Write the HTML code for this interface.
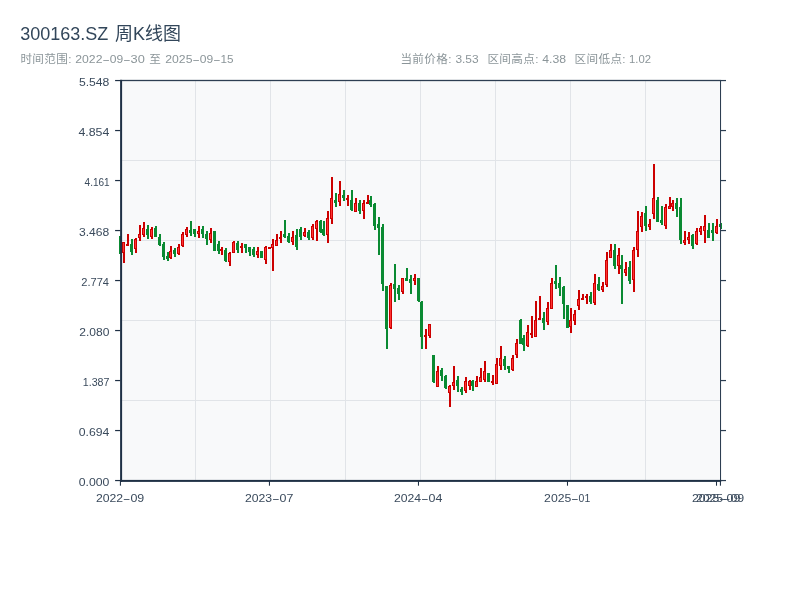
<!DOCTYPE html>
<html lang="zh-CN"><head><meta charset="utf-8"><title>300163.SZ 周K线图</title>
<style>
html,body{margin:0;padding:0;background:#fff;}
body{width:800px;height:600px;overflow:hidden;font-family:"Liberation Sans","Noto Sans CJK SC",sans-serif;}
svg{display:block;will-change:transform;}
text{font-family:"Liberation Sans","Noto Sans CJK SC",sans-serif;}
.tk{font-size:11.1px;fill:#3a4a5c;}
.ttl{font-size:18px;fill:#32465a;}
.sub{font-size:11.1px;fill:#8b9599;}
.cj{font-size:11.6px;}
</style></head><body>
<svg width="800" height="600" viewBox="0 0 800 600">
<rect width="800" height="600" fill="#ffffff"/>
<text x="20.2" y="39.6" class="ttl">300163.SZ <tspan dx="1.8" dy="0.4">周K线图</tspan></text>
<text x="20.4" y="63" textLength="51" class="sub cj">时间范围:</text>
<text y="63" class="sub"><tspan x="75.30" textLength="27.16" lengthAdjust="spacingAndGlyphs">2022</tspan><tspan x="102.24" textLength="7.73" lengthAdjust="spacingAndGlyphs">-</tspan><tspan x="109.81" textLength="13.42" lengthAdjust="spacingAndGlyphs">09</tspan><tspan x="123.01" textLength="7.73" lengthAdjust="spacingAndGlyphs">-</tspan><tspan x="130.58" textLength="14.22" lengthAdjust="spacingAndGlyphs">30</tspan></text>
<text x="149.2" y="63" textLength="11.6" class="sub cj">至</text>
<text y="63" class="sub"><tspan x="165.30" textLength="27.16" lengthAdjust="spacingAndGlyphs">2025</tspan><tspan x="192.24" textLength="7.73" lengthAdjust="spacingAndGlyphs">-</tspan><tspan x="199.81" textLength="13.42" lengthAdjust="spacingAndGlyphs">09</tspan><tspan x="213.01" textLength="7.73" lengthAdjust="spacingAndGlyphs">-</tspan><tspan x="220.58" textLength="13.02" lengthAdjust="spacingAndGlyphs">15</tspan></text>
<text x="400.4" y="63" textLength="51" class="sub cj">当前价格:</text>
<text x="455.4" y="63" textLength="23.2" lengthAdjust="spacingAndGlyphs" class="sub">3.53</text>
<text x="487.4" y="63" textLength="51" class="sub cj">区间高点:</text>
<text x="542.2" y="63" textLength="23.8" lengthAdjust="spacingAndGlyphs" class="sub">4.38</text>
<text x="574.6" y="63" textLength="51" class="sub cj">区间低点:</text>
<text x="629" y="63" textLength="22" lengthAdjust="spacingAndGlyphs" class="sub">1.02</text>
<rect x="120" y="80" width="601" height="401" fill="#f8f9fa"/>
<rect x="195" y="81" width="1" height="399" fill="#e1e4e8"/>
<rect x="270" y="81" width="1" height="399" fill="#e1e4e8"/>
<rect x="345" y="81" width="1" height="399" fill="#e1e4e8"/>
<rect x="420" y="81" width="1" height="399" fill="#e1e4e8"/>
<rect x="495" y="81" width="1" height="399" fill="#e1e4e8"/>
<rect x="570" y="81" width="1" height="399" fill="#e1e4e8"/>
<rect x="645" y="81" width="1" height="399" fill="#e1e4e8"/>
<rect x="122" y="160" width="598" height="1" fill="#e1e4e8"/>
<rect x="122" y="240" width="598" height="1" fill="#e1e4e8"/>
<rect x="122" y="320" width="598" height="1" fill="#e1e4e8"/>
<rect x="122" y="400" width="598" height="1" fill="#e1e4e8"/>
<g id="candles" shape-rendering="crispEdges">
<rect x="120" y="236" width="2" height="18" fill="#0a8a32"/>
<rect x="119" y="236" width="3" height="18" fill="#0a8a32"/>
<rect x="123" y="242" width="2" height="20.5" fill="#cc0000"/>
<rect x="122" y="242" width="3" height="10.5" fill="#cc0000"/>
<rect x="123" y="243" width="1" height="8.5" fill="#ff3333"/>
<rect x="127" y="234" width="2" height="11.8" fill="#cc0000"/>
<rect x="126" y="244" width="3" height="1.8" fill="#cc0000"/>
<rect x="131" y="239" width="2" height="15.8" fill="#0a8a32"/>
<rect x="130" y="244" width="3" height="8" fill="#0a8a32"/>
<rect x="135" y="238" width="2" height="14.8" fill="#cc0000"/>
<rect x="134" y="239" width="3" height="9.5" fill="#cc0000"/>
<rect x="135" y="240" width="1" height="7.5" fill="#ff3333"/>
<rect x="139" y="225" width="2" height="15.5" fill="#cc0000"/>
<rect x="138" y="234" width="3" height="4" fill="#cc0000"/>
<rect x="139" y="235" width="1" height="2" fill="#ff3333"/>
<rect x="143" y="222" width="2" height="14.5" fill="#cc0000"/>
<rect x="142" y="228" width="3" height="6.5" fill="#cc0000"/>
<rect x="143" y="229" width="1" height="4.5" fill="#ff3333"/>
<rect x="147" y="225" width="2" height="13.8" fill="#0a8a32"/>
<rect x="146" y="229" width="3" height="6" fill="#0a8a32"/>
<rect x="151" y="227" width="2" height="11.8" fill="#cc0000"/>
<rect x="150" y="228.5" width="3" height="8.5" fill="#cc0000"/>
<rect x="151" y="229.5" width="1" height="6.5" fill="#ff3333"/>
<rect x="155" y="226" width="2" height="10.8" fill="#0a8a32"/>
<rect x="154" y="228" width="3" height="8.8" fill="#0a8a32"/>
<rect x="159" y="234" width="2" height="11.8" fill="#0a8a32"/>
<rect x="158" y="236.5" width="3" height="8.5" fill="#0a8a32"/>
<rect x="163" y="242" width="2" height="17.8" fill="#0a8a32"/>
<rect x="162" y="244" width="3" height="12.5" fill="#0a8a32"/>
<rect x="167" y="252" width="2" height="8.8" fill="#0a8a32"/>
<rect x="166" y="256" width="3" height="3" fill="#0a8a32"/>
<rect x="170" y="246" width="2" height="12.8" fill="#cc0000"/>
<rect x="169" y="251" width="3" height="7" fill="#cc0000"/>
<rect x="170" y="252" width="1" height="5" fill="#ff3333"/>
<rect x="174" y="248" width="2" height="8.8" fill="#0a8a32"/>
<rect x="173" y="249.5" width="3" height="4.5" fill="#0a8a32"/>
<rect x="178" y="244" width="2" height="10.8" fill="#cc0000"/>
<rect x="177" y="247" width="3" height="7" fill="#cc0000"/>
<rect x="178" y="248" width="1" height="5" fill="#ff3333"/>
<rect x="182" y="232" width="2" height="14.8" fill="#cc0000"/>
<rect x="181" y="234" width="3" height="12" fill="#cc0000"/>
<rect x="182" y="235" width="1" height="10" fill="#ff3333"/>
<rect x="186" y="227" width="2" height="9.8" fill="#cc0000"/>
<rect x="185" y="229" width="3" height="6" fill="#cc0000"/>
<rect x="186" y="230" width="1" height="4" fill="#ff3333"/>
<rect x="190" y="221" width="2" height="14.8" fill="#0a8a32"/>
<rect x="189" y="229.5" width="3" height="3" fill="#0a8a32"/>
<rect x="194" y="229" width="2" height="7.8" fill="#0a8a32"/>
<rect x="193" y="229" width="3" height="4.5" fill="#0a8a32"/>
<rect x="198" y="226" width="2" height="11.8" fill="#cc0000"/>
<rect x="197" y="231" width="3" height="2.5" fill="#cc0000"/>
<rect x="198" y="232" width="1" height="0.5" fill="#ff3333"/>
<rect x="202" y="226" width="2" height="11.8" fill="#0a8a32"/>
<rect x="201" y="229" width="3" height="5" fill="#0a8a32"/>
<rect x="206" y="231" width="2" height="13.8" fill="#0a8a32"/>
<rect x="205" y="234" width="3" height="5" fill="#0a8a32"/>
<rect x="210" y="228" width="2" height="14.8" fill="#cc0000"/>
<rect x="209" y="232.5" width="3" height="7" fill="#cc0000"/>
<rect x="210" y="233.5" width="1" height="5" fill="#ff3333"/>
<rect x="214" y="231" width="2" height="19.8" fill="#0a8a32"/>
<rect x="213" y="231" width="3" height="19.5" fill="#0a8a32"/>
<rect x="218" y="241" width="2" height="12.8" fill="#0a8a32"/>
<rect x="217" y="244" width="3" height="7" fill="#0a8a32"/>
<rect x="221" y="247" width="2" height="7.8" fill="#cc0000"/>
<rect x="220" y="249" width="3" height="2" fill="#cc0000"/>
<rect x="225" y="248" width="2" height="13.8" fill="#0a8a32"/>
<rect x="224" y="250" width="3" height="11" fill="#0a8a32"/>
<rect x="229" y="252" width="2" height="13.8" fill="#cc0000"/>
<rect x="228" y="252.5" width="3" height="9.5" fill="#cc0000"/>
<rect x="229" y="253.5" width="1" height="7.5" fill="#ff3333"/>
<rect x="233" y="241" width="2" height="11.8" fill="#cc0000"/>
<rect x="232" y="241.5" width="3" height="11" fill="#cc0000"/>
<rect x="233" y="242.5" width="1" height="9" fill="#ff3333"/>
<rect x="237" y="241" width="2" height="11.8" fill="#0a8a32"/>
<rect x="236" y="243" width="3" height="6.5" fill="#0a8a32"/>
<rect x="241" y="243" width="2" height="9.8" fill="#cc0000"/>
<rect x="240" y="246" width="3" height="2" fill="#cc0000"/>
<rect x="245" y="244" width="2" height="8.8" fill="#0a8a32"/>
<rect x="244" y="244" width="3" height="3.5" fill="#0a8a32"/>
<rect x="249" y="247" width="2" height="8.8" fill="#0a8a32"/>
<rect x="248" y="247" width="3" height="5" fill="#0a8a32"/>
<rect x="253" y="247" width="2" height="9.8" fill="#0a8a32"/>
<rect x="252" y="249" width="3" height="6" fill="#0a8a32"/>
<rect x="257" y="247" width="2" height="10.8" fill="#cc0000"/>
<rect x="256" y="251" width="3" height="3.5" fill="#cc0000"/>
<rect x="257" y="252" width="1" height="1.5" fill="#ff3333"/>
<rect x="261" y="251" width="2" height="6.8" fill="#0a8a32"/>
<rect x="260" y="251" width="3" height="6.8" fill="#0a8a32"/>
<rect x="265" y="246" width="2" height="17.8" fill="#cc0000"/>
<rect x="264" y="246.5" width="3" height="13" fill="#cc0000"/>
<rect x="265" y="247.5" width="1" height="11" fill="#ff3333"/>
<rect x="269" y="247" width="2" height="2" fill="#cc0000"/>
<rect x="268" y="247" width="3" height="2" fill="#cc0000"/>
<rect x="272" y="239" width="2" height="31.8" fill="#cc0000"/>
<rect x="271" y="244" width="3" height="3.5" fill="#cc0000"/>
<rect x="272" y="245" width="1" height="1.5" fill="#ff3333"/>
<rect x="276" y="234" width="2" height="11.8" fill="#cc0000"/>
<rect x="275" y="239.5" width="3" height="6" fill="#cc0000"/>
<rect x="276" y="240.5" width="1" height="4" fill="#ff3333"/>
<rect x="280" y="231" width="2" height="11.8" fill="#cc0000"/>
<rect x="279" y="236.5" width="3" height="2.5" fill="#cc0000"/>
<rect x="280" y="237.5" width="1" height="0.5" fill="#ff3333"/>
<rect x="284" y="220" width="2" height="17.8" fill="#0a8a32"/>
<rect x="283" y="234" width="3" height="3" fill="#0a8a32"/>
<rect x="288" y="233" width="2" height="9.8" fill="#0a8a32"/>
<rect x="287" y="236" width="3" height="5.5" fill="#0a8a32"/>
<rect x="292" y="231" width="2" height="13.8" fill="#cc0000"/>
<rect x="291" y="236.5" width="3" height="5.5" fill="#cc0000"/>
<rect x="292" y="237.5" width="1" height="3.5" fill="#ff3333"/>
<rect x="296" y="229" width="2" height="20.8" fill="#0a8a32"/>
<rect x="295" y="234.5" width="3" height="12" fill="#0a8a32"/>
<rect x="300" y="227" width="2" height="12.8" fill="#0a8a32"/>
<rect x="299" y="229" width="3" height="7.5" fill="#0a8a32"/>
<rect x="304" y="228" width="2" height="8.8" fill="#cc0000"/>
<rect x="303" y="232" width="3" height="4" fill="#cc0000"/>
<rect x="304" y="233" width="1" height="2" fill="#ff3333"/>
<rect x="308" y="230" width="2" height="9.8" fill="#0a8a32"/>
<rect x="307" y="231.5" width="3" height="6.5" fill="#0a8a32"/>
<rect x="312" y="224" width="2" height="15.8" fill="#cc0000"/>
<rect x="311" y="225.5" width="3" height="12" fill="#cc0000"/>
<rect x="312" y="226.5" width="1" height="10" fill="#ff3333"/>
<rect x="316" y="220" width="2" height="20.8" fill="#cc0000"/>
<rect x="315" y="221" width="3" height="7.5" fill="#cc0000"/>
<rect x="316" y="222" width="1" height="5.5" fill="#ff3333"/>
<rect x="320" y="220" width="2" height="12.8" fill="#0a8a32"/>
<rect x="319" y="221" width="3" height="11" fill="#0a8a32"/>
<rect x="323" y="221" width="2" height="14.8" fill="#0a8a32"/>
<rect x="322" y="229" width="3" height="5.5" fill="#0a8a32"/>
<rect x="327" y="211" width="2" height="31.8" fill="#cc0000"/>
<rect x="326" y="217.5" width="3" height="17" fill="#cc0000"/>
<rect x="327" y="218.5" width="1" height="15" fill="#ff3333"/>
<rect x="331" y="177" width="2" height="46.8" fill="#cc0000"/>
<rect x="330" y="198" width="3" height="20.5" fill="#cc0000"/>
<rect x="331" y="199" width="1" height="18.5" fill="#ff3333"/>
<rect x="335" y="193" width="2" height="13.8" fill="#0a8a32"/>
<rect x="334" y="200" width="3" height="3" fill="#0a8a32"/>
<rect x="339" y="181" width="2" height="24.8" fill="#cc0000"/>
<rect x="338" y="194" width="3" height="7.5" fill="#cc0000"/>
<rect x="339" y="195" width="1" height="5.5" fill="#ff3333"/>
<rect x="343" y="190" width="2" height="10.8" fill="#0a8a32"/>
<rect x="342" y="195" width="3" height="3" fill="#0a8a32"/>
<rect x="347" y="195" width="2" height="10.8" fill="#cc0000"/>
<rect x="346" y="198" width="3" height="2" fill="#cc0000"/>
<rect x="351" y="190" width="2" height="20.8" fill="#0a8a32"/>
<rect x="350" y="200" width="3" height="10" fill="#0a8a32"/>
<rect x="355" y="198" width="2" height="13.8" fill="#cc0000"/>
<rect x="354" y="203" width="3" height="8.5" fill="#cc0000"/>
<rect x="355" y="204" width="1" height="6.5" fill="#ff3333"/>
<rect x="359" y="200" width="2" height="13.8" fill="#0a8a32"/>
<rect x="358" y="203" width="3" height="8" fill="#0a8a32"/>
<rect x="363" y="200" width="2" height="18.8" fill="#cc0000"/>
<rect x="362" y="203" width="3" height="7.5" fill="#cc0000"/>
<rect x="363" y="204" width="1" height="5.5" fill="#ff3333"/>
<rect x="367" y="195" width="2" height="8.8" fill="#cc0000"/>
<rect x="366" y="202" width="3" height="1.8" fill="#cc0000"/>
<rect x="370" y="196" width="2" height="10.8" fill="#0a8a32"/>
<rect x="369" y="200" width="3" height="5" fill="#0a8a32"/>
<rect x="374" y="203" width="2" height="26.8" fill="#0a8a32"/>
<rect x="373" y="204" width="3" height="22" fill="#0a8a32"/>
<rect x="378" y="217" width="2" height="37.8" fill="#0a8a32"/>
<rect x="377" y="224" width="3" height="4" fill="#0a8a32"/>
<rect x="382" y="224" width="2" height="66.8" fill="#0a8a32"/>
<rect x="381" y="227" width="3" height="57" fill="#0a8a32"/>
<rect x="386" y="286" width="2" height="62.8" fill="#0a8a32"/>
<rect x="385" y="286" width="3" height="43" fill="#0a8a32"/>
<rect x="390" y="283" width="2" height="45.8" fill="#cc0000"/>
<rect x="389" y="285" width="3" height="43" fill="#cc0000"/>
<rect x="390" y="286" width="1" height="41" fill="#ff3333"/>
<rect x="394" y="264" width="2" height="37.8" fill="#0a8a32"/>
<rect x="393" y="284" width="3" height="4.5" fill="#0a8a32"/>
<rect x="398" y="285" width="2" height="14.8" fill="#0a8a32"/>
<rect x="397" y="288" width="3" height="5.5" fill="#0a8a32"/>
<rect x="402" y="278" width="2" height="15.8" fill="#cc0000"/>
<rect x="401" y="278" width="3" height="13.5" fill="#cc0000"/>
<rect x="402" y="279" width="1" height="11.5" fill="#ff3333"/>
<rect x="406" y="268" width="2" height="12.8" fill="#0a8a32"/>
<rect x="405" y="278" width="3" height="2.8" fill="#0a8a32"/>
<rect x="410" y="275" width="2" height="18.8" fill="#0a8a32"/>
<rect x="409" y="279" width="3" height="3.5" fill="#0a8a32"/>
<rect x="414" y="274" width="2" height="10.8" fill="#cc0000"/>
<rect x="413" y="278" width="3" height="2.5" fill="#cc0000"/>
<rect x="414" y="279" width="1" height="0.5" fill="#ff3333"/>
<rect x="418" y="278" width="2" height="23.8" fill="#0a8a32"/>
<rect x="417" y="278" width="3" height="23" fill="#0a8a32"/>
<rect x="421" y="301" width="2" height="47.8" fill="#0a8a32"/>
<rect x="420" y="301.5" width="3" height="35.5" fill="#0a8a32"/>
<rect x="425" y="329" width="2" height="19.8" fill="#cc0000"/>
<rect x="424" y="335" width="3" height="1.5" fill="#cc0000"/>
<rect x="429" y="324" width="2" height="13.8" fill="#cc0000"/>
<rect x="428" y="324" width="3" height="11.5" fill="#cc0000"/>
<rect x="429" y="325" width="1" height="9.5" fill="#ff3333"/>
<rect x="433" y="355" width="2" height="27.8" fill="#0a8a32"/>
<rect x="432" y="355" width="3" height="27" fill="#0a8a32"/>
<rect x="437" y="366" width="2" height="20.8" fill="#cc0000"/>
<rect x="436" y="371" width="3" height="15.5" fill="#cc0000"/>
<rect x="437" y="372" width="1" height="13.5" fill="#ff3333"/>
<rect x="441" y="368" width="2" height="12.8" fill="#0a8a32"/>
<rect x="440" y="370" width="3" height="6" fill="#0a8a32"/>
<rect x="445" y="375" width="2" height="13.8" fill="#0a8a32"/>
<rect x="444" y="376" width="3" height="12" fill="#0a8a32"/>
<rect x="449" y="385" width="2" height="21.8" fill="#cc0000"/>
<rect x="448" y="386" width="3" height="6.5" fill="#cc0000"/>
<rect x="449" y="387" width="1" height="4.5" fill="#ff3333"/>
<rect x="453" y="366" width="2" height="23.8" fill="#cc0000"/>
<rect x="452" y="381.5" width="3" height="4" fill="#cc0000"/>
<rect x="453" y="382.5" width="1" height="2" fill="#ff3333"/>
<rect x="457" y="376" width="2" height="15.8" fill="#0a8a32"/>
<rect x="456" y="380" width="3" height="5.5" fill="#0a8a32"/>
<rect x="461" y="387" width="2" height="7.8" fill="#0a8a32"/>
<rect x="460" y="389" width="3" height="3" fill="#0a8a32"/>
<rect x="465" y="377" width="2" height="15.8" fill="#cc0000"/>
<rect x="464" y="381" width="3" height="9.5" fill="#cc0000"/>
<rect x="465" y="382" width="1" height="7.5" fill="#ff3333"/>
<rect x="469" y="380" width="2" height="9.8" fill="#cc0000"/>
<rect x="468" y="381" width="3" height="5" fill="#cc0000"/>
<rect x="469" y="382" width="1" height="3" fill="#ff3333"/>
<rect x="472" y="380" width="2" height="10.8" fill="#0a8a32"/>
<rect x="471" y="381" width="3" height="5" fill="#0a8a32"/>
<rect x="476" y="376" width="2" height="10.8" fill="#cc0000"/>
<rect x="475" y="381" width="3" height="5.5" fill="#cc0000"/>
<rect x="476" y="382" width="1" height="3.5" fill="#ff3333"/>
<rect x="480" y="368" width="2" height="13.8" fill="#cc0000"/>
<rect x="479" y="377" width="3" height="4.5" fill="#cc0000"/>
<rect x="480" y="378" width="1" height="2.5" fill="#ff3333"/>
<rect x="484" y="361" width="2" height="20.8" fill="#cc0000"/>
<rect x="483" y="371" width="3" height="8.5" fill="#cc0000"/>
<rect x="484" y="372" width="1" height="6.5" fill="#ff3333"/>
<rect x="488" y="373" width="2" height="8.8" fill="#0a8a32"/>
<rect x="487" y="373" width="3" height="8.8" fill="#0a8a32"/>
<rect x="492" y="375" width="2" height="9.8" fill="#cc0000"/>
<rect x="491" y="381" width="3" height="2" fill="#cc0000"/>
<rect x="496" y="358" width="2" height="25.8" fill="#cc0000"/>
<rect x="495" y="364" width="3" height="19.5" fill="#cc0000"/>
<rect x="496" y="365" width="1" height="17.5" fill="#ff3333"/>
<rect x="500" y="346" width="2" height="23.8" fill="#cc0000"/>
<rect x="499" y="358" width="3" height="7.5" fill="#cc0000"/>
<rect x="500" y="359" width="1" height="5.5" fill="#ff3333"/>
<rect x="504" y="356" width="2" height="13.8" fill="#0a8a32"/>
<rect x="503" y="359" width="3" height="7" fill="#0a8a32"/>
<rect x="508" y="366" width="2" height="6.8" fill="#0a8a32"/>
<rect x="507" y="366" width="3" height="3" fill="#0a8a32"/>
<rect x="512" y="355" width="2" height="15.8" fill="#cc0000"/>
<rect x="511" y="358" width="3" height="11.5" fill="#cc0000"/>
<rect x="512" y="359" width="1" height="9.5" fill="#ff3333"/>
<rect x="516" y="339" width="2" height="18.8" fill="#cc0000"/>
<rect x="515" y="343" width="3" height="12" fill="#cc0000"/>
<rect x="516" y="344" width="1" height="10" fill="#ff3333"/>
<rect x="520" y="319" width="2" height="25" fill="#0a8a32"/>
<rect x="519" y="320" width="3" height="23.5" fill="#0a8a32"/>
<rect x="523" y="335" width="2" height="15.8" fill="#0a8a32"/>
<rect x="522" y="337.5" width="3" height="7" fill="#0a8a32"/>
<rect x="527" y="325" width="2" height="21.8" fill="#cc0000"/>
<rect x="526" y="332" width="3" height="14" fill="#cc0000"/>
<rect x="527" y="333" width="1" height="12" fill="#ff3333"/>
<rect x="531" y="316" width="2" height="21.8" fill="#cc0000"/>
<rect x="530" y="333" width="3" height="2" fill="#cc0000"/>
<rect x="535" y="301" width="2" height="35.8" fill="#cc0000"/>
<rect x="534" y="320" width="3" height="16.5" fill="#cc0000"/>
<rect x="535" y="321" width="1" height="14.5" fill="#ff3333"/>
<rect x="539" y="296" width="2" height="23.8" fill="#cc0000"/>
<rect x="538" y="318" width="3" height="1.8" fill="#cc0000"/>
<rect x="543" y="312" width="2" height="17.8" fill="#0a8a32"/>
<rect x="542" y="318" width="3" height="5" fill="#0a8a32"/>
<rect x="547" y="302" width="2" height="22.8" fill="#cc0000"/>
<rect x="546" y="308" width="3" height="14" fill="#cc0000"/>
<rect x="547" y="309" width="1" height="12" fill="#ff3333"/>
<rect x="551" y="278" width="2" height="30.8" fill="#cc0000"/>
<rect x="550" y="283" width="3" height="25.8" fill="#cc0000"/>
<rect x="551" y="284" width="1" height="23.8" fill="#ff3333"/>
<rect x="555" y="265" width="2" height="23.8" fill="#0a8a32"/>
<rect x="554" y="281" width="3" height="3" fill="#0a8a32"/>
<rect x="559" y="277" width="2" height="18.8" fill="#0a8a32"/>
<rect x="558" y="283" width="3" height="5" fill="#0a8a32"/>
<rect x="563" y="286" width="2" height="32.8" fill="#0a8a32"/>
<rect x="562" y="286.5" width="3" height="17" fill="#0a8a32"/>
<rect x="567" y="305" width="2" height="22.8" fill="#0a8a32"/>
<rect x="566" y="305" width="3" height="22.5" fill="#0a8a32"/>
<rect x="570" y="308" width="2" height="24.8" fill="#cc0000"/>
<rect x="569" y="320" width="3" height="7" fill="#cc0000"/>
<rect x="570" y="321" width="1" height="5" fill="#ff3333"/>
<rect x="574" y="310" width="2" height="14.8" fill="#cc0000"/>
<rect x="573" y="314" width="3" height="7" fill="#cc0000"/>
<rect x="574" y="315" width="1" height="5" fill="#ff3333"/>
<rect x="578" y="290" width="2" height="19.8" fill="#cc0000"/>
<rect x="577" y="299" width="3" height="7" fill="#cc0000"/>
<rect x="578" y="300" width="1" height="5" fill="#ff3333"/>
<rect x="582" y="294" width="2" height="5.8" fill="#cc0000"/>
<rect x="581" y="298" width="3" height="1.8" fill="#cc0000"/>
<rect x="586" y="294" width="2" height="9.8" fill="#cc0000"/>
<rect x="585" y="296" width="3" height="2" fill="#cc0000"/>
<rect x="590" y="292" width="2" height="11.8" fill="#0a8a32"/>
<rect x="589" y="296" width="3" height="6" fill="#0a8a32"/>
<rect x="594" y="274" width="2" height="30.8" fill="#cc0000"/>
<rect x="593" y="283" width="3" height="20" fill="#cc0000"/>
<rect x="594" y="284" width="1" height="18" fill="#ff3333"/>
<rect x="598" y="277" width="2" height="13.8" fill="#0a8a32"/>
<rect x="597" y="284" width="3" height="6" fill="#0a8a32"/>
<rect x="602" y="282" width="2" height="9.8" fill="#cc0000"/>
<rect x="601" y="286" width="3" height="3.5" fill="#cc0000"/>
<rect x="602" y="287" width="1" height="1.5" fill="#ff3333"/>
<rect x="606" y="252" width="2" height="34.8" fill="#cc0000"/>
<rect x="605" y="260" width="3" height="24.5" fill="#cc0000"/>
<rect x="606" y="261" width="1" height="22.5" fill="#ff3333"/>
<rect x="610" y="244" width="2" height="13.8" fill="#cc0000"/>
<rect x="609" y="250" width="3" height="7.5" fill="#cc0000"/>
<rect x="610" y="251" width="1" height="5.5" fill="#ff3333"/>
<rect x="614" y="244" width="2" height="24.8" fill="#0a8a32"/>
<rect x="613" y="250" width="3" height="16" fill="#0a8a32"/>
<rect x="618" y="248" width="2" height="25.8" fill="#cc0000"/>
<rect x="617" y="255" width="3" height="10.5" fill="#cc0000"/>
<rect x="618" y="256" width="1" height="8.5" fill="#ff3333"/>
<rect x="621" y="255" width="2" height="48.8" fill="#0a8a32"/>
<rect x="620" y="265" width="3" height="4" fill="#0a8a32"/>
<rect x="625" y="262" width="2" height="13.8" fill="#cc0000"/>
<rect x="624" y="269" width="3" height="3.5" fill="#cc0000"/>
<rect x="625" y="270" width="1" height="1.5" fill="#ff3333"/>
<rect x="629" y="261" width="2" height="22.8" fill="#0a8a32"/>
<rect x="628" y="267" width="3" height="14" fill="#0a8a32"/>
<rect x="633" y="247" width="2" height="44.8" fill="#cc0000"/>
<rect x="632" y="250" width="3" height="29.5" fill="#cc0000"/>
<rect x="633" y="251" width="1" height="27.5" fill="#ff3333"/>
<rect x="637" y="211" width="2" height="45.8" fill="#cc0000"/>
<rect x="636" y="231" width="3" height="19" fill="#cc0000"/>
<rect x="637" y="232" width="1" height="17" fill="#ff3333"/>
<rect x="641" y="212" width="2" height="19.8" fill="#cc0000"/>
<rect x="640" y="216" width="3" height="11" fill="#cc0000"/>
<rect x="641" y="217" width="1" height="9" fill="#ff3333"/>
<rect x="645" y="206" width="2" height="24.8" fill="#0a8a32"/>
<rect x="644" y="213" width="3" height="13" fill="#0a8a32"/>
<rect x="649" y="219" width="2" height="10.8" fill="#cc0000"/>
<rect x="648" y="224" width="3" height="2.5" fill="#cc0000"/>
<rect x="649" y="225" width="1" height="0.5" fill="#ff3333"/>
<rect x="653" y="164" width="2" height="54.8" fill="#cc0000"/>
<rect x="652" y="198" width="3" height="16" fill="#cc0000"/>
<rect x="653" y="199" width="1" height="14" fill="#ff3333"/>
<rect x="657" y="197" width="2" height="24.8" fill="#0a8a32"/>
<rect x="656" y="200" width="3" height="21.5" fill="#0a8a32"/>
<rect x="661" y="206" width="2" height="18.8" fill="#0a8a32"/>
<rect x="660" y="220" width="3" height="3" fill="#0a8a32"/>
<rect x="665" y="204" width="2" height="24.8" fill="#cc0000"/>
<rect x="664" y="207" width="3" height="19" fill="#cc0000"/>
<rect x="665" y="208" width="1" height="17" fill="#ff3333"/>
<rect x="669" y="197" width="2" height="11.8" fill="#cc0000"/>
<rect x="668" y="206" width="3" height="2.5" fill="#cc0000"/>
<rect x="669" y="207" width="1" height="0.5" fill="#ff3333"/>
<rect x="672" y="200" width="2" height="10.8" fill="#cc0000"/>
<rect x="671" y="203" width="3" height="3.5" fill="#cc0000"/>
<rect x="672" y="204" width="1" height="1.5" fill="#ff3333"/>
<rect x="676" y="198" width="2" height="18.8" fill="#0a8a32"/>
<rect x="675" y="203" width="3" height="6" fill="#0a8a32"/>
<rect x="680" y="198" width="2" height="45.8" fill="#0a8a32"/>
<rect x="679" y="207" width="3" height="33" fill="#0a8a32"/>
<rect x="684" y="231" width="2" height="13.8" fill="#cc0000"/>
<rect x="683" y="240" width="3" height="3" fill="#cc0000"/>
<rect x="684" y="241" width="1" height="1" fill="#ff3333"/>
<rect x="688" y="232" width="2" height="11.8" fill="#cc0000"/>
<rect x="687" y="237" width="3" height="3" fill="#cc0000"/>
<rect x="688" y="238" width="1" height="1" fill="#ff3333"/>
<rect x="692" y="234" width="2" height="14.8" fill="#0a8a32"/>
<rect x="691" y="235" width="3" height="11" fill="#0a8a32"/>
<rect x="696" y="228" width="2" height="16.8" fill="#cc0000"/>
<rect x="695" y="231" width="3" height="13" fill="#cc0000"/>
<rect x="696" y="232" width="1" height="11" fill="#ff3333"/>
<rect x="700" y="226" width="2" height="8.8" fill="#cc0000"/>
<rect x="699" y="228" width="3" height="4" fill="#cc0000"/>
<rect x="700" y="229" width="1" height="2" fill="#ff3333"/>
<rect x="704" y="215" width="2" height="27.8" fill="#cc0000"/>
<rect x="703" y="226" width="3" height="5" fill="#cc0000"/>
<rect x="704" y="227" width="1" height="3" fill="#ff3333"/>
<rect x="708" y="223" width="2" height="14.8" fill="#0a8a32"/>
<rect x="707" y="230" width="3" height="7.5" fill="#0a8a32"/>
<rect x="712" y="223" width="2" height="17.8" fill="#0a8a32"/>
<rect x="711" y="230" width="3" height="2.5" fill="#0a8a32"/>
<rect x="716" y="219" width="2" height="14.8" fill="#cc0000"/>
<rect x="715" y="225.5" width="3" height="7.5" fill="#cc0000"/>
<rect x="716" y="226.5" width="1" height="5.5" fill="#ff3333"/>
<rect x="720" y="223" width="2" height="5.8" fill="#0a8a32"/>
<rect x="719" y="224" width="3" height="2.5" fill="#0a8a32"/>
</g>
<rect x="120.1" y="79.85" width="601" height="1.3" fill="#2d3e52"/>
<rect x="720" y="80" width="1.05" height="401" fill="#2d3e52"/>
<rect x="120.1" y="79.85" width="2" height="402" fill="#1f3045"/>
<rect x="120.1" y="479.9" width="601.1" height="2" fill="#1f3045"/>
<rect x="115.1" y="79.95" width="5.2" height="1.2" fill="#1f3045"/>
<rect x="721" y="79.95" width="5" height="1.2" fill="#2d3e52"/>
<text x="78.9" y="86.1" textLength="30.5" lengthAdjust="spacingAndGlyphs" class="tk">5.548</text>
<rect x="115.1" y="129.95" width="5.2" height="1.2" fill="#1f3045"/>
<rect x="721" y="129.95" width="5" height="1.2" fill="#2d3e52"/>
<text x="78.4" y="136.1" textLength="30.9" lengthAdjust="spacingAndGlyphs" class="tk">4.854</text>
<rect x="115.1" y="179.95" width="5.2" height="1.2" fill="#1f3045"/>
<rect x="721" y="179.95" width="5" height="1.2" fill="#2d3e52"/>
<text x="84.6" y="186.1" textLength="25.1" lengthAdjust="spacingAndGlyphs" class="tk">4.161</text>
<rect x="115.1" y="229.95" width="5.2" height="1.2" fill="#1f3045"/>
<rect x="721" y="229.95" width="5" height="1.2" fill="#2d3e52"/>
<text x="79" y="236.1" textLength="30.3" lengthAdjust="spacingAndGlyphs" class="tk">3.468</text>
<rect x="115.1" y="279.95" width="5.2" height="1.2" fill="#1f3045"/>
<rect x="721" y="279.95" width="5" height="1.2" fill="#2d3e52"/>
<text x="81.25" y="286.1" textLength="27.8" lengthAdjust="spacingAndGlyphs" class="tk">2.774</text>
<rect x="115.1" y="329.95" width="5.2" height="1.2" fill="#1f3045"/>
<rect x="721" y="329.95" width="5" height="1.2" fill="#2d3e52"/>
<text x="79.25" y="336.1" textLength="30.1" lengthAdjust="spacingAndGlyphs" class="tk">2.080</text>
<rect x="115.1" y="379.95" width="5.2" height="1.2" fill="#1f3045"/>
<rect x="721" y="379.95" width="5" height="1.2" fill="#2d3e52"/>
<text x="82.75" y="386.1" textLength="26.7" lengthAdjust="spacingAndGlyphs" class="tk">1.387</text>
<rect x="115.1" y="429.95" width="5.2" height="1.2" fill="#1f3045"/>
<rect x="721" y="429.95" width="5" height="1.2" fill="#2d3e52"/>
<text x="78.75" y="436.1" textLength="30.6" lengthAdjust="spacingAndGlyphs" class="tk">0.694</text>
<rect x="115.1" y="479.95" width="5.2" height="1.2" fill="#1f3045"/>
<rect x="721" y="479.95" width="5" height="1.2" fill="#2d3e52"/>
<text x="78.75" y="486.1" textLength="30.6" lengthAdjust="spacingAndGlyphs" class="tk">0.000</text>
<rect x="119.90" y="481" width="1.05" height="4.7" fill="#1f3045"/>
<text y="502.1" class="tk"><tspan x="95.95" textLength="27.16" lengthAdjust="spacingAndGlyphs">2022</tspan><tspan x="122.89" textLength="7.73" lengthAdjust="spacingAndGlyphs">-</tspan><tspan x="130.46" textLength="13.84" lengthAdjust="spacingAndGlyphs">09</tspan></text>
<rect x="268.92" y="481" width="1.05" height="4.7" fill="#1f3045"/>
<text y="502.1" class="tk"><tspan x="244.97" textLength="27.16" lengthAdjust="spacingAndGlyphs">2023</tspan><tspan x="271.91" textLength="7.73" lengthAdjust="spacingAndGlyphs">-</tspan><tspan x="279.48" textLength="13.84" lengthAdjust="spacingAndGlyphs">07</tspan></text>
<rect x="417.94" y="481" width="1.05" height="4.7" fill="#1f3045"/>
<text y="502.1" class="tk"><tspan x="393.99" textLength="27.16" lengthAdjust="spacingAndGlyphs">2024</tspan><tspan x="420.93" textLength="7.73" lengthAdjust="spacingAndGlyphs">-</tspan><tspan x="428.50" textLength="13.84" lengthAdjust="spacingAndGlyphs">04</tspan></text>
<rect x="566.96" y="481" width="1.05" height="4.7" fill="#1f3045"/>
<text y="502.1" class="tk"><tspan x="544.11" textLength="27.16" lengthAdjust="spacingAndGlyphs">2025</tspan><tspan x="571.05" textLength="7.73" lengthAdjust="spacingAndGlyphs">-</tspan><tspan x="578.62" textLength="11.64" lengthAdjust="spacingAndGlyphs">01</tspan></text>
<rect x="715.98" y="481" width="1.05" height="4.7" fill="#1f3045"/>
<text y="502.1" class="tk"><tspan x="692.03" textLength="27.16" lengthAdjust="spacingAndGlyphs">2025</tspan><tspan x="718.97" textLength="7.73" lengthAdjust="spacingAndGlyphs">-</tspan><tspan x="726.54" textLength="13.84" lengthAdjust="spacingAndGlyphs">09</tspan></text>
<rect x="719.90" y="481" width="1.05" height="4.7" fill="#1f3045"/>
<text y="502.1" class="tk"><tspan x="695.95" textLength="27.16" lengthAdjust="spacingAndGlyphs">2025</tspan><tspan x="722.89" textLength="7.73" lengthAdjust="spacingAndGlyphs">-</tspan><tspan x="730.46" textLength="13.84" lengthAdjust="spacingAndGlyphs">09</tspan></text>
</svg>
</body></html>
